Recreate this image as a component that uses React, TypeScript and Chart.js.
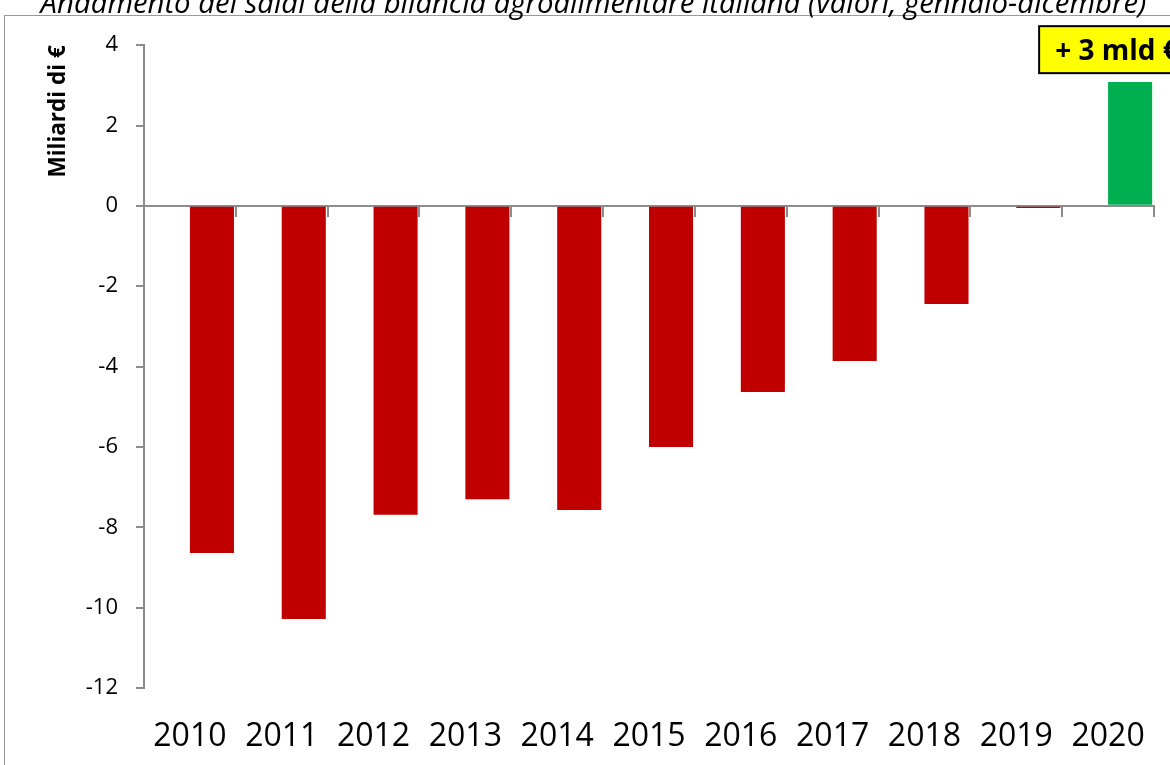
import React, { useEffect, useRef } from "react";
import { Chart, registerables } from "chart.js";

Chart.register(...registerables);

const TITLE = "Andamento dei saldi della bilancia agroalimentare italiana (valori, gennaio-dicembre)";
const Y_TITLE = "Miliardi di €";
const YEARS = ["2010", "2011", "2012", "2013", "2014", "2015", "2016", "2017", "2018", "2019", "2020"];
const SALDI = [-8.64, -10.28, -7.69, -7.3, -7.57, -6.0, -4.63, -3.86, -2.44, -0.05, 3.08];
const SPACER = [null, null, null, null, null, null, null, null, null, null, null];
const Y_MIN = -12;
const Y_MAX = 4;
const Y_STEP = 2;
const NOTE = "+ 3 mld €";

const RED = "#C00000";
const GREEN = "#00B050";
const AXIS_GREY = "#8C8C8C";

const framePlugin = {
  id: "frame",
  beforeDraw(chart: any) {
    const ctx = chart.ctx;
    ctx.save();
    ctx.strokeStyle = "#999999";
    ctx.lineWidth = 1;
    ctx.strokeRect(4.5, 15.5, 3000, 3000);
    ctx.restore();
  },
};

const notePlugin = {
  id: "note",
  afterDraw(chart: any) {
    const meta = chart.getDatasetMeta(1);
    const idx = SALDI.length - 1;
    const el = meta.data[idx];
    if (!el) return;
    const ctx = chart.ctx;
    const left = el.x - 91;
    const top = chart.chartArea.top - 19;
    ctx.save();
    ctx.fillStyle = "#FFFF00";
    ctx.fillRect(left, top, 400, 47);
    ctx.strokeStyle = "#000000";
    ctx.lineWidth = 2;
    ctx.strokeRect(left, top, 400, 47);
    ctx.fillStyle = "#000000";
    ctx.font = "bold 28px 'Open Sans'";
    ctx.textBaseline = "alphabetic";
    ctx.textAlign = "left";
    ctx.fillText(NOTE, left + 16, top + 34);
    ctx.restore();
  },
};

export default function App() {
  const ref = useRef<HTMLCanvasElement>(null);

  useEffect(() => {
    if (!ref.current) return;
    const chart = new Chart(ref.current, {
      type: "bar",
      data: {
        labels: YEARS,
        datasets: [
          {
            label: "",
            data: SPACER as any,
            backgroundColor: "rgba(0,0,0,0)",
          },
          {
            label: "Saldo",
            data: SALDI,
            backgroundColor: SALDI.map((v) => (v < 0 ? RED : GREEN)),
            borderWidth: 0,
          },
        ],
      },
      options: {
        responsive: false,
        animation: false,
        devicePixelRatio: 1,
        layout: { padding: { left: 33, right: 16, top: 0, bottom: 9 } },
        datasets: {
          bar: { categoryPercentage: 0.96, barPercentage: 1 },
        },
        plugins: {
          legend: { display: false },
          tooltip: { enabled: false },
          title: {
            display: true,
            text: TITLE,
            color: "#000000",
            font: { family: "'Open Sans'", size: 29.3, style: "italic", weight: "normal" },
            padding: { top: -13, bottom: 23 },
          },
        },
        scales: {
          x: {
            type: "category",
            position: { y: 0 } as any,
            offset: true,
            z: 1,
            grid: {
              display: true,
              offset: true,
              drawOnChartArea: false,
              drawTicks: true,
              tickLength: 10,
              color: AXIS_GREY,
              lineWidth: 2,
            },
            border: { display: true, color: AXIS_GREY, width: 2 },
            ticks: { display: false },
            afterFit(scale: any) {
              scale.height = 0;
              scale.paddingLeft = 0;
              scale.paddingRight = 0;
            },
          },
          x2: {
            type: "category",
            position: "bottom",
            offset: true,
            grid: { display: false, drawTicks: false },
            border: { display: false },
            ticks: {
              color: "#000000",
              padding: 30,
              maxRotation: 0,
              autoSkip: false,
              font: { family: "'Open Sans'", size: 32 },
            },
            afterFit(scale: any) {
              scale.height = 68;
              scale.paddingLeft = 0;
              scale.paddingRight = 0;
            },
          },
          y: {
            type: "linear",
            position: "left",
            min: Y_MIN,
            max: Y_MAX,
            ticks: {
              stepSize: Y_STEP,
              color: "#000000",
              padding: 18,
              font: { family: "'Open Sans'", size: 22 },
            },
            grid: {
              display: true,
              drawOnChartArea: false,
              drawTicks: true,
              tickLength: 8,
              color: AXIS_GREY,
              lineWidth: 2,
            },
            border: { display: true, color: AXIS_GREY, width: 2 },
            title: {
              display: true,
              text: Y_TITLE,
              align: "end",
              color: "#000000",
              font: { family: "'Open Sans'", size: 22.5, weight: "bold" },
              padding: { top: 12, bottom: 0 },
            },
            afterFit(scale: any) {
              scale.width = 111;
            },
          },
        },
      },
      plugins: [framePlugin, notePlugin],
    });
    return () => chart.destroy();
  }, []);

  return (
    <div style={{ position: "absolute", left: 0, top: 0, width: 1170, height: 765, background: "#ffffff" }}>
      <canvas ref={ref} width={1170} height={765} />
    </div>
  );
}
